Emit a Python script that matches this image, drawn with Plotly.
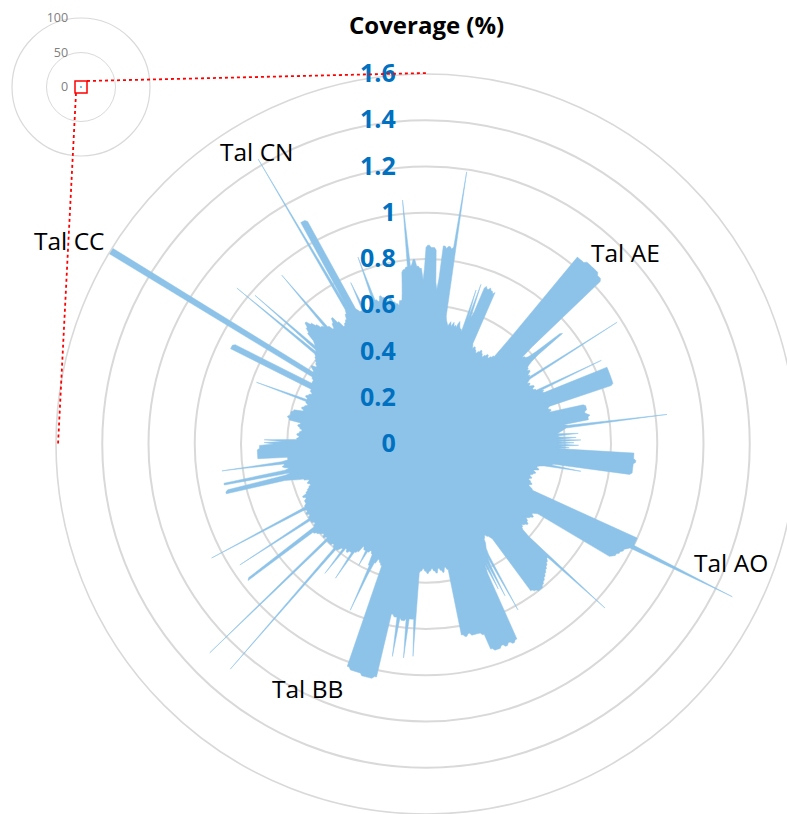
import plotly.graph_objects as go

# Coverage (%) in half-degree bins, clockwise from 12 o'clock (10 bins = 5 degrees per row)
coverage = [
    0.85, 0.86, 0.86, 0.85, 0.85, 0.85, 0.84, 0.70, 0.67, 0.72,  # 0
    0.86, 0.86, 0.85, 0.86, 0.86, 0.85, 0.86, 1.19, 0.56, 0.54,  # 5
    0.53, 0.52, 0.53, 0.54, 0.52, 0.53, 0.54, 0.52, 0.53, 0.52,  # 10
    0.54, 0.55, 0.53, 0.52, 0.52, 0.51, 0.70, 0.57, 0.73, 0.58,  # 15
    0.60, 0.72, 0.73, 0.72, 0.72, 0.73, 0.72, 0.72, 0.71, 0.72,  # 20
    0.48, 0.47, 0.46, 0.47, 0.47, 0.46, 0.46, 0.45, 0.45, 0.46,  # 25
    0.46, 0.47, 0.47, 0.46, 0.46, 0.45, 0.45, 0.46, 0.46, 0.47,  # 30
    0.47, 0.46, 0.46, 0.47, 0.47, 0.48, 0.48, 0.60, 1.04, 1.04,  # 35
    1.04, 1.04, 1.04, 1.05, 1.05, 1.05, 1.05, 1.05, 1.05, 1.05,  # 40
    1.05, 1.04, 1.04, 1.04, 1.03, 0.62, 0.56, 0.57, 0.57, 0.58,  # 45
    0.62, 0.75, 0.76, 0.62, 0.58, 0.56, 0.55, 0.55, 0.54, 0.55,  # 50
    0.55, 0.54, 0.53, 0.54, 0.53, 0.98, 0.53, 0.52, 0.51, 0.52,  # 55
    0.52, 0.51, 0.52, 0.53, 0.53, 0.52, 0.52, 0.53, 0.53, 0.84,  # 60
    0.55, 0.56, 0.55, 0.56, 0.85, 0.85, 0.85, 0.85, 0.85, 0.85,  # 65
    0.85, 0.85, 0.85, 0.85, 0.85, 0.84, 0.56, 0.55, 0.55, 0.56,  # 70
    0.56, 0.55, 0.70, 0.71, 0.71, 0.71, 0.71, 0.70, 0.70, 0.71,  # 75
    0.72, 0.71, 0.71, 0.71, 0.60, 0.62, 1.05, 0.61, 0.60, 0.59,  # 80
    0.58, 0.57, 0.66, 0.57, 0.58, 0.65, 0.57, 0.67, 0.57, 0.64,  # 85
    0.57, 0.66, 0.58, 0.62, 0.57, 0.90, 0.90, 0.90, 0.90, 0.91,  # 90
    0.91, 0.90, 0.90, 0.90, 0.90, 0.90, 0.90, 0.89, 0.56, 0.55,  # 95
    0.68, 0.52, 0.50, 0.49, 0.49, 0.50, 0.50, 0.48, 0.48, 0.49,  # 100
    0.49, 0.48, 0.48, 0.47, 0.47, 0.48, 0.48, 0.47, 0.47, 0.48,  # 105
    0.48, 0.49, 0.49, 0.48, 0.48, 0.49, 0.50, 0.50, 1.00, 1.00,  # 110
    1.00, 1.00, 1.00, 1.48, 0.99, 0.98, 0.97, 0.97, 0.96, 0.96,  # 115
    0.95, 0.95, 0.94, 0.93, 0.57, 0.56, 0.55, 0.55, 0.56, 0.56,  # 120
    0.55, 0.55, 0.54, 0.54, 0.55, 0.55, 0.56, 0.56, 0.55, 0.55,  # 125
    0.54, 0.55, 0.55, 0.56, 0.60, 1.05, 0.72, 0.72, 0.73, 0.73,  # 130
    0.74, 0.74, 0.75, 0.75, 0.76, 0.76, 0.77, 0.77, 0.78, 0.78,  # 135
    0.79, 0.79, 0.80, 0.80, 0.80, 0.80, 0.79, 0.79, 0.78, 0.78,  # 140
    0.50, 0.49, 0.48, 0.48, 0.47, 0.47, 0.48, 0.48, 0.50, 0.51,  # 145
    0.52, 0.55, 0.82, 0.56, 0.60, 0.74, 0.57, 0.70, 0.58, 0.62,  # 150
    0.93, 0.93, 0.94, 0.94, 0.93, 0.93, 0.94, 0.94, 0.93, 0.93,  # 155
    0.94, 0.94, 0.94, 0.94, 0.93, 0.93, 0.86, 0.86, 0.85, 0.85,  # 160
    0.85, 0.85, 0.85, 0.85, 0.84, 0.84, 0.85, 0.85, 0.84, 0.84,  # 165
    0.55, 0.55, 0.54, 0.54, 0.56, 0.56, 0.55, 0.55, 0.54, 0.54,  # 170
    0.56, 0.56, 0.55, 0.55, 0.54, 0.54, 0.55, 0.55, 0.56, 0.56,  # 175
    0.55, 0.55, 0.54, 0.54, 0.55, 0.55, 0.56, 0.92, 0.76, 0.76,  # 180
    0.76, 0.76, 0.93, 0.76, 0.77, 0.77, 0.77, 0.76, 0.93, 0.76,  # 185
    0.76, 0.76, 0.75, 0.75, 1.03, 1.03, 1.04, 1.04, 1.04, 1.04,  # 190
    1.04, 1.04, 1.03, 1.03, 1.03, 1.03, 1.03, 1.03, 1.02, 1.02,  # 195
    0.56, 0.56, 0.55, 0.55, 0.54, 0.54, 0.56, 0.56, 0.62, 0.79,  # 200
    0.58, 0.58, 0.53, 0.53, 0.52, 0.52, 0.53, 0.53, 0.60, 0.53,  # 205
    0.53, 0.53, 0.52, 0.52, 0.55, 0.55, 0.56, 0.56, 0.70, 0.57,  # 210
    0.57, 0.57, 0.58, 0.58, 0.57, 0.57, 0.71, 0.58, 0.58, 0.59,  # 215
    0.60, 0.60, 1.29, 0.60, 0.60, 0.59, 0.59, 0.60, 0.60, 0.60,  # 220
    0.60, 0.60, 1.30, 0.59, 0.59, 0.60, 0.60, 0.59, 0.59, 0.60,  # 225
    0.60, 0.61, 0.61, 0.62, 0.62, 0.97, 0.96, 0.60, 0.60, 0.59,  # 230
    0.59, 0.60, 0.60, 0.60, 0.96, 0.60, 0.60, 0.59, 0.59, 0.60,  # 235
    0.60, 0.59, 0.59, 0.60, 1.05, 0.59, 0.59, 0.58, 0.58, 0.58,  # 240
    0.58, 0.57, 0.57, 0.58, 0.58, 0.56, 0.56, 0.55, 0.55, 0.54,  # 245
    0.54, 0.53, 0.53, 0.54, 0.54, 0.53, 0.53, 0.55, 0.55, 0.58,  # 250
    0.60, 0.63, 0.89, 0.89, 0.88, 0.62, 0.60, 0.89, 0.89, 0.62,  # 255
    0.60, 0.62, 0.63, 0.62, 0.62, 0.89, 0.63, 0.60, 0.60, 0.60,  # 260
    0.73, 0.73, 0.73, 0.73, 0.73, 0.73, 0.73, 0.72, 0.72, 0.72,  # 265
    0.66, 0.70, 0.62, 0.70, 0.56, 0.56, 0.55, 0.55, 0.56, 0.56,  # 270
    0.55, 0.55, 0.54, 0.54, 0.55, 0.55, 0.56, 0.56, 0.55, 0.55,  # 275
    0.60, 0.60, 0.61, 0.61, 0.60, 0.60, 0.60, 0.60, 0.59, 0.59,  # 280
    0.55, 0.55, 0.56, 0.56, 0.55, 0.55, 0.54, 0.54, 0.55, 0.55,  # 285
    0.78, 0.55, 0.55, 0.56, 0.56, 0.55, 0.55, 0.54, 0.54, 0.55,  # 290
    0.55, 0.55, 0.94, 0.94, 0.94, 0.93, 0.56, 0.56, 0.56, 0.56,  # 295
    0.57, 0.57, 1.60, 1.60, 1.60, 0.58, 0.58, 0.59, 0.60, 0.60,  # 300
    0.58, 0.58, 0.59, 0.59, 0.60, 0.60, 0.61, 0.61, 0.62, 1.06,  # 305
    0.62, 0.63, 0.98, 0.64, 0.65, 0.66, 0.70, 0.70, 0.72, 0.72,  # 310
    0.74, 0.74, 0.72, 0.72, 0.70, 0.70, 0.68, 0.68, 0.67, 0.96,  # 315
    0.66, 0.66, 0.64, 0.64, 0.66, 0.66, 0.68, 0.68, 0.65, 0.65,  # 320
    0.62, 0.62, 0.63, 0.63, 0.64, 0.64, 0.66, 0.66, 0.68, 1.43,  # 325
    0.70, 1.10, 1.10, 1.10, 1.09, 0.66, 0.65, 0.64, 0.64, 0.64,  # 330
    0.77, 0.63, 0.63, 0.62, 0.62, 0.64, 0.64, 0.65, 0.65, 0.66,  # 335
    0.86, 0.66, 0.66, 0.65, 0.65, 0.67, 0.67, 0.66, 0.66, 0.65,  # 340
    0.64, 0.64, 0.65, 0.65, 0.63, 0.63, 0.62, 0.62, 0.61, 0.63,  # 345
    0.63, 0.63, 0.66, 0.70, 0.75, 0.76, 0.76, 0.77, 0.77, 1.06,  # 350
    0.77, 0.78, 0.80, 0.80, 0.77, 0.77, 0.76, 0.76, 0.71, 0.76,  # 355
]
assert len(coverage) == 720

radial_ticks = [0, 0.2, 0.4, 0.6, 0.8, 1.0, 1.2, 1.4, 1.6]
radial_ticktext = ["0", "0.2", "0.4", "0.6", "0.8", "1", "1.2", "1.4", "1.6"]
overview_ticks = [0, 50, 100]
overview_ticktext = ["0", "50", "100"]

sample_names = ["Tal CN", "Tal CC", "Tal AE", "Tal AO", "Tal BB"]

n = len(coverage)
theta = [i * 360.0 / n for i in range(n)]
r_closed = coverage + coverage[:1]
theta_closed = theta + theta[:1]

FILL = "#8DC3E8"
GRID = "#D9D9D9"
W, H = 796, 814

fig = go.Figure()

# full-scale overview (0-100 %) and the zoomed view (0-1.6 %)
for sub in ("polar2", "polar"):
    fig.add_trace(go.Scatterpolar(
        r=r_closed, theta=theta_closed, thetaunit="degrees",
        mode="lines", fill="toself", fillcolor=FILL,
        line=dict(color=FILL, width=0.5),
        hoverinfo="skip", subplot=sub,
    ))


def px_x(x):
    return x / W


def px_y(y):
    return 1 - y / H


fig.update_layout(
    width=W, height=H,
    margin=dict(l=0, r=0, t=0, b=0),
    paper_bgcolor="white",
    showlegend=False,
    polar=dict(
        domain=dict(x=[px_x(56), px_x(796)], y=[px_y(814), px_y(74)]),
        bgcolor="rgba(0,0,0,0)",
        radialaxis=dict(
            range=[0, 1.6], tickvals=radial_ticks, ticktext=radial_ticktext,
            angle=90, side="counterclockwise", tickangle=90,
            showline=False, ticks="outside", ticklen=21,
            tickcolor="rgba(0,0,0,0)",
            gridcolor=GRID, gridwidth=1.6,
            tickfont=dict(family="Open Sans", size=25, color="#0070C0", weight="bold"),
        ),
        angularaxis=dict(
            rotation=90, direction="clockwise",
            showticklabels=False, ticks="", showgrid=False,
            showline=True, linecolor=GRID, linewidth=1.6,
        ),
    ),
    polar2=dict(
        domain=dict(x=[px_x(12), px_x(150)], y=[px_y(156), px_y(18)]),
        bgcolor="rgba(0,0,0,0)",
        radialaxis=dict(
            range=[0, 100], tickvals=overview_ticks, ticktext=overview_ticktext,
            angle=90, side="counterclockwise", tickangle=90,
            showline=False, ticks="outside", ticklen=8,
            tickcolor="rgba(0,0,0,0)",
            gridcolor=GRID, gridwidth=1.2,
            tickfont=dict(family="Open Sans", size=12.5, color="#808080"),
        ),
        angularaxis=dict(
            rotation=90, direction="clockwise",
            showticklabels=False, ticks="", showgrid=False,
            showline=True, linecolor=GRID, linewidth=1.2,
        ),
    ),
)

# zoom call-out: box on the overview and guide lines to the enlarged view
fig.add_shape(type="rect", xref="paper", yref="paper",
              x0=px_x(75), x1=px_x(87), y0=px_y(93), y1=px_y(81),
              line=dict(color="#FF0000", width=1.5))
fig.add_shape(type="line", xref="paper", yref="paper",
              x0=px_x(87), y0=px_y(81), x1=px_x(427), y1=px_y(73),
              line=dict(color="#FF0000", width=1.8, dash="dot"))
fig.add_shape(type="line", xref="paper", yref="paper",
              x0=px_x(76), y0=px_y(93), x1=px_x(58), y1=px_y(445),
              line=dict(color="#FF0000", width=1.8, dash="dot"))

fig.add_annotation(text="<b>Coverage (%)</b>", xref="paper", yref="paper",
                   x=px_x(426), y=px_y(25), xanchor="center", yanchor="middle",
                   showarrow=False,
                   font=dict(family="Open Sans", size=24, color="black"))

label_pos = [(257, 151), (69, 240), (625, 252), (731, 562), (307, 688)]
for name, (lx, ly) in zip(sample_names, label_pos):
    fig.add_annotation(text=name, xref="paper", yref="paper",
                       x=px_x(lx), y=px_y(ly), xanchor="center", yanchor="middle",
                       showarrow=False,
                       font=dict(family="Open Sans", size=24.5, color="black"))

fig.write_html(
    "out.html",
    post_script=("document.documentElement.style.overflow='hidden';"
                 "document.body.style.overflow='hidden';"
                 "document.body.style.margin='0';"),
)
